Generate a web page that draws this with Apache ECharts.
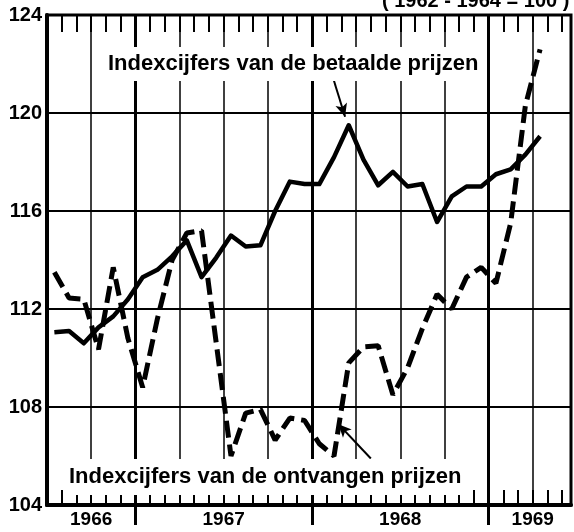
<!DOCTYPE html>
<html>
<head>
  <meta charset="UTF-8">
  <title>Indexcijfers betaalde en ontvangen prijzen</title>
  <script src="https://cdn.jsdelivr.net/npm/echarts@6/dist/echarts.min.js"></script>
  <style>
    html, body { margin: 0; padding: 0; background: #fff; }
    #main { width: 574px; height: 532px; }
  </style>
</head>
<body>
  <div id="main"></div>
  <script>
    // maanden juli 1966 t/m april 1969 (de as begint op 1 juli 1966)
    var maanden = ['1966-07', '1966-08', '1966-09', '1966-10', '1966-11', '1966-12',
      '1967-01', '1967-02', '1967-03', '1967-04', '1967-05', '1967-06',
      '1967-07', '1967-08', '1967-09', '1967-10', '1967-11', '1967-12',
      '1968-01', '1968-02', '1968-03', '1968-04', '1968-05', '1968-06',
      '1968-07', '1968-08', '1968-09', '1968-10', '1968-11', '1968-12',
      '1969-01', '1969-02', '1969-03', '1969-04'];

    // indexcijfers van de betaalde prijzen (doorgetrokken lijn)
    var betaald = [111.05, 111.1, 110.6, 111.25, 111.7, 112.4,
      113.3, 113.6, 114.15, 114.8, 113.3, 114.1,
      115.0, 114.55, 114.6, 116.0, 117.2, 117.1,
      117.1, 118.2, 119.5, 118.1, 117.05, 117.6,
      117.0, 117.1, 115.55, 116.6, 117.0, 117.0,
      117.5, 117.7, 118.3, 119.05];

    // indexcijfers van de ontvangen prijzen (gestreepte lijn)
    var ontvangen = [113.5, 112.45, 112.4, 110.35, 113.7, 110.8,
      108.8, 111.6, 114.0, 115.1, 115.2, 110.6,
      106.0, 107.75, 107.9, 106.65, 107.55, 107.45,
      106.5, 106.0, 109.8, 110.45, 110.5, 108.5,
      109.6, 111.2, 112.6, 112.0, 113.3, 113.7,
      113.05, 115.5, 120.3, 122.6];

    var jaren = ['1966', '1967', '1968', '1969'];
    var jaarMidden = [3, 12, 24, 33];   // maand (vanaf juli 1966) onder het jaartal
    var jaarGrens = [6, 18, 30];        // 1 januari van 1967, 1968, 1969

    // pijlen bij de teksten: [van, naar] in [maand, index]
    var pijlen = [
      [[19.4, 121.5], [20.25, 119.85]],
      [[22.0, 105.9], [19.8, 107.3]]
    ];

    var font = 'Liberation Sans';
    var maandTicks = [];
    for (var m = 1; m < 36; m++) maandTicks.push(m);

    function punten(arr) {
      return arr.map(function (v, i) { return [i + 0.5, v]; });
    }

    var myChart = echarts.init(document.getElementById('main'));

    // losse x-as (alleen streepjes), zelfde schaal als de hoofd-as
    function tickAs(positie, waarden, lengte, binnen, dikte) {
      return {
        type: 'value', min: 0, max: 35.6, interval: 3, position: positie,
        axisLine: { show: false },
        axisTick: { show: true, inside: binnen, length: lengte, customValues: waarden, lineStyle: { color: '#000', width: dikte } },
        axisLabel: { show: false },
        splitLine: { show: false }
      };
    }

    var option = {
      animation: false,
      backgroundColor: '#fff',
      grid: {
        left: 47, right: 3, top: 15, bottom: 27,
        show: true, borderColor: '#000', borderWidth: 3
      },
      xAxis: [
        {
          type: 'value', min: 0, max: 35.6, interval: 3, position: 'bottom',
          axisLine: { show: true, lineStyle: { color: '#000', width: 4 } },
          axisTick: { show: false },
          axisLabel: {
            customValues: jaarMidden,
            formatter: function (v) { var k = jaarMidden.indexOf(v); return k < 0 ? '' : jaren[k]; },
            color: '#000', fontFamily: font, fontWeight: 'bold', fontSize: 19, margin: 5
          },
          splitLine: { show: true, lineStyle: { color: '#000', width: 1.5 } }
        },
        tickAs('bottom', maandTicks, 15, true, 2),
        tickAs('top', maandTicks, 17, true, 2),
        tickAs('top', jaarGrens, 29, true, 3),
        tickAs('bottom', jaarGrens, 20, false, 3)
      ],
      yAxis: {
        type: 'value', min: 104, max: 124, interval: 4,
        axisLine: { show: true, lineStyle: { color: '#000', width: 4 } },
        axisTick: { show: false },
        axisLabel: { color: '#000', fontFamily: font, fontWeight: 'bold', fontSize: 20, margin: 5 },
        splitLine: { show: true, lineStyle: { color: '#000', width: 2 } }
      },
      series: [
        {
          name: 'Indexcijfers van de betaalde prijzen',
          type: 'line',
          data: punten(betaald),
          symbol: 'none',
          z: 3,
          lineStyle: { color: '#000', width: 4.5, join: 'round' },
          markLine: {
            silent: true,
            symbol: 'none',
            label: { show: false },
            lineStyle: { color: '#000', width: 3, type: 'solid' },
            data: jaarGrens.map(function (x) { return { xAxis: x }; })
          }
        },
        {
          name: 'Indexcijfers van de ontvangen prijzen',
          type: 'line',
          data: punten(ontvangen),
          symbol: 'none',
          z: 3,
          lineStyle: { color: '#000', width: 5, type: [17, 7] },
          markLine: {
            silent: true,
            symbol: ['none', 'arrow'],
            symbolSize: [9, 13],
            label: { show: false },
            lineStyle: { color: '#000', width: 2, type: 'solid' },
            data: pijlen.map(function (p) { return [{ coord: p[0] }, { coord: p[1] }]; })
          }
        }
      ],
      graphic: [
        {
          type: 'text', x: 105, y: 64, z: 10,
          style: {
            text: 'Indexcijfers van de betaalde prijzen',
            font: 'bold 22px "Liberation Sans"', fill: '#000',
            verticalAlign: 'middle', backgroundColor: '#fff', padding: [6, 3, 6, 3]
          }
        },
        {
          type: 'text', x: 66, y: 477, z: 10,
          style: {
            text: 'Indexcijfers van de ontvangen prijzen',
            font: 'bold 22px "Liberation Sans"', fill: '#000',
            verticalAlign: 'middle', backgroundColor: '#fff', padding: [9, 3, 5, 3]
          }
        },
        {
          type: 'text', x: 382, y: 1, z: 10,
          style: {
            text: '( 1962 - 1964 = 100 )',
            font: 'bold 20px "Liberation Sans"', fill: '#000',
            verticalAlign: 'middle'
          }
        }
      ]
    };
    myChart.setOption(option);
  </script>
</body>
</html>
